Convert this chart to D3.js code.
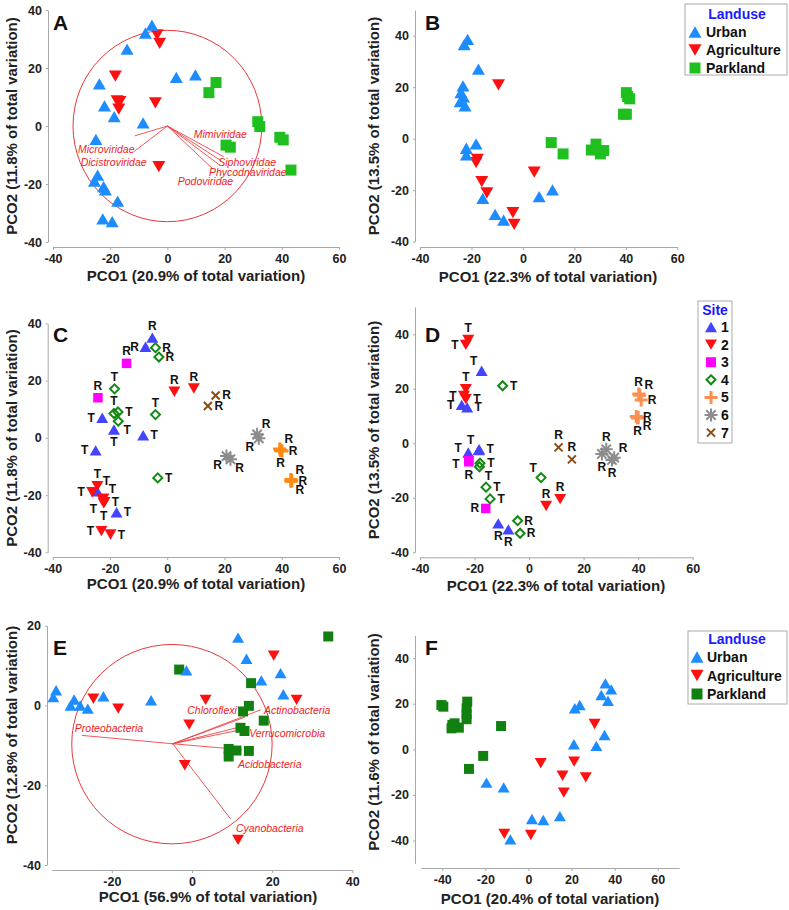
<!DOCTYPE html>
<html>
<head>
<meta charset="utf-8">
<script src="https://cdn.jsdelivr.net/npm/d3@7"></script>
<style>
body { margin: 0; background: #fff; }
svg { font-family: Arial, "Liberation Sans", sans-serif; }
</style>
</head>
<body>
<script>
// ---- panel A : viral PCO with vectors
var aUrban = [[-5.4,34.8],[-7.7,32],[-14.1,26.5],[3.1,16.8],[9.8,17.6],[-23.8,14.5],[-22,6.9],[-18.6,3.2],[-8.5,1.1],[-25,-4.6],[-24.4,-16.9],[-25.5,-19],[-22.3,-20.9],[-21.7,-22],[-17.4,-25.9],[-22.6,-32],[-19.3,-33]];
var aAgri = [[-3.6,31.4],[-2.7,28.5],[-18.2,17.2],[-17.6,8.7],[-16.6,8.4],[-17,5.8],[-4.2,8],[-3,-14]];
var aPark = [[14.5,11.5],[17,15],[31.6,1.5],[32.3,-0.2],[20.5,-6.6],[22,-7.3],[39.3,-3.9],[40.5,-4.8],[43.2,-15.2]];
var aVecNames = ["Microviridae","Dicistroviridae","Mimiviridae","Siphoviridae","Phycodnaviridae","Podoviridae"];
var aVecX = [-11.4,-11.8,19.7,18.8,17.9,16];
var aVecY = [-3.4,-8.9,-10.6,-12,-13.2,-14.9];
var aVecLabX = [-21.4,-18.8,18.5,27.9,28.1,13.3];
var aVecLabY = [-8.0,-12.5,-2.8,-12.5,-15.9,-18.9];
var aCircle = [0, 0, 33];

// ---- panel B
var bUrban = [[-21.5,38.6],[-22.8,36.6],[-17.3,27],[-23.3,20.5],[-24.1,17.9],[-23.1,16.3],[-24.4,14.4],[-22.5,12.8],[-22,-3.7],[-22,-6.3],[-18.2,-2],[-15.6,-23.2],[-10.8,-29.4],[-7.5,-31.6],[6.3,-22.5],[11.5,-19.9]];
var bAgri = [[-9.5,20.9],[-17.7,-8],[-18.2,-9.3],[-16,-16.7],[-14,-21],[-3.9,-28.7],[-3.4,-33.3],[4.4,-13]];
var bPark = [[11,-1.5],[15.6,-5.9],[26.6,-4.4],[28.4,-2.1],[30.1,-5.9],[31.4,-4.6],[40.2,17.9],[40.7,16.4],[41.5,15.5],[39.1,9.5],[40.2,9.5]];

// ---- panel C (sites, R/T labels)
var cSite1 = [[-5.2,35,"R"],[-7.6,31.8,"R"],[-22.7,7,"T"],[-18.6,2.9,"T"],[-8.4,0.9,"T"],[-25,-4.4,"T"],[-24.4,-18.7,"T"],[-17.7,-26,"T"]];
var cSite2 = [[2.5,16.1,"R"],[9.3,17.2,"R"],[-24.4,-16.9,"T"],[-26.2,-19,"T"],[-22.3,-21.3,"T"],[-21.9,-22.5,"T"],[-22.6,-21.6,"T"],[-22.2,-22.9,"T"],[-23,-32.6,"T"],[-19.8,-33.8,"T"]];
var cSite3 = [[-14.2,26,"R"],[-24.2,14,"R"]];
var cSite4 = [[-4.1,31.5,"R"],[-2.9,28.2,"R"],[-18.4,17.1,"T"],[-18.6,8.5,"T"],[-17.2,9,"T"],[-17.1,5.8,"T"],[-4.1,8.1,"T"],[-3.3,-14,"T"]];
var cSite5 = [[39.3,-3.9,"R"],[40.1,-4.6,"R"],[39.6,-4.4,"R"],[43.2,-14.6,"R"],[43.5,-15,"R"],[43.2,-15.2,"R"]];
var cSite6 = [[31.4,1.2,"R"],[32,-0.2,"R"],[20.7,-6.4,"R"],[22.1,-7.5,"R"]];
var cSite7 = [[16.9,14.8,"R"],[14.2,11.1,"R"]];

// ---- panel D
var dSite1 = [[-17.4,26.6,"T"],[-24.7,14.1,"T"],[-22.7,13.2,"T"],[-22.3,-3.4,"T"],[-18.3,-2.2,"T"],[-18.5,-2.5,"T"],[-11.3,-29.4,"R"],[-7.6,-31.6,"R"]];
var dSite2 = [[-22.3,37.9,"T"],[-23.2,36.1,"T"],[-23.2,19.8,"T"],[-23.9,17.4,"T"],[-23.2,16.2,"T"],[6.25,-23,"R"],[11.4,-20.5,"R"]];
var dSite3 = [[-22.1,-6.4,"T"],[-22.1,-6.8,"R"],[-15.9,-23.9,"R"]];
var dSite4 = [[-9.7,21.1,"T"],[-18,-7.3,"T"],[-18.2,-8.6,"T"],[-15.8,-16.1,"T"],[-14.3,-20.4,"T"],[4.4,-12.6,"T"],[-4.2,-28.4,"R"],[-3.3,-33,"R"]];
var dSite5 = [[40.2,18.1,"R"],[40.6,17.6,"R"],[41.1,15.9,"R"],[39.3,9.8,"R"],[39.8,9.3,"R"],[40,9.5,"R"]];
var dSite6 = [[28.3,-2.2,"R"],[26.7,-3.9,"R"],[31.2,-5.3,"R"],[30.4,-6.1,"R"]];
var dSite7 = [[10.8,-1.5,"R"],[15.7,-5.9,"R"]];

// ---- panel E : bacterial PCO with vectors
var eUrban = [[-33.9,3.8],[-34.6,2.1],[-29.4,1.5],[-30.3,0],[-27.9,0],[-26,-0.8],[-22.1,2.3],[-10.2,1.3],[-1.4,8.8],[11.5,17],[13.6,11.7],[22.1,8.1],[17.3,6.3],[22.8,2.8]];
var eAgri = [[-24.6,1.7],[-18.4,-0.8],[3.4,1.4],[-0.7,-4.8],[-1.8,-15],[20.4,12.5],[26.1,1.4],[11.5,-33.7]];
var ePark = [[-3.2,9],[14.75,5.6],[34,17.3],[14.2,-0.1],[12.75,-1.5],[17.9,-3.8],[12.1,-5.6],[13.1,-6.4],[9.15,-10.9],[11.1,-11.3],[9.15,-12.8],[14.2,-11.4]];
var eVecNames = ["Proteobacteria","Chloroflexi","Actinobacteria","Verrucomicrobia","Acidobacteria","Cyanobacteria"];
var eVecX = [-27.5,13.3,17.1,12.75,12.5,9.6];
var eVecY = [-7.5,-2.9,-1.1,-5.2,-11.1,-28.4];
var eVecExtraX = [11.25], eVecExtraY = [-6.3];
var eVecLabX = [-20.7,5,26.25,23.75,19.4,19.4];
var eVecLabY = [-5.7,-1.25,-1.1,-6.8,-14.6,-30.75];
var eCircle = [-5, -9.7, 25];

// ---- panel F
var fUrban = [[35.7,28.9],[38.4,26.3],[33.8,23.8],[36.9,21.3],[21.5,18],[23.8,19.4],[35.3,6.3],[31.5,1.5],[21.1,2.2],[-19.5,-14.6],[-11.5,-16.7],[1.6,-30.6],[6.9,-31],[14.6,-29.3],[-8.4,-39.5]];
var fAgri = [[30.7,11.1],[5.7,-6.1],[21.2,-5.4],[15.8,-11.6],[26.6,-12.3],[16.4,-19],[-11.2,-37.1],[1.1,-37.6]];
var fPark = [[-40.4,19.4],[-39.5,18.7],[-35.3,10.7],[-34.3,11.4],[-32.3,9.5],[-35.7,9.2],[-28.4,20.9],[-28.7,18],[-28.7,15.4],[-28.7,13.2],[-12.7,10.2],[-21,-2.9],[-27.6,-8.6]];

var landuseNames = ["Urban","Agriculture","Parkland"];
var siteNames = ["1","2","3","4","5","6","7"];

// label placement (layout only)
var cDir = [["n","w","w","s","e","w","ne","e"],["n","n","n","w","ne","e","sw","s","w","e"],["n","n"],["e","e","n","n","e","se","n","e"],["ne","e","s","ne","e","se"],["ne","sw","sw","se"],["e","e"]];
var dDir = [["nw","w","e","wnw","e","nw","s","s"],["n","w","n","w","e","n","n"],["wsw","s","w"],["e","e","se","e","e","nw","e","e"],["n","ne","e","e","s","se"],["n","s","ne","s"],["n","n"]];
var off = {n:[0,-12], s:[0,13], e:[11,0], w:[-11,0], ne:[9,-10], nw:[-8,-10], se:[9,9], sw:[-9,9], wnw:[-10,-5], wsw:[-13,3]};

var BLUE = "#1c8cff", RED = "#ff1010", GREEN1 = "#1fbf1f", GREEN2 = "#118011";

var svg = d3.select("body").append("svg").attr("width", 789).attr("height", 910);

// ---------- shapes
function shapePath(type, s) {
    var h = s / 2;
    if (type == "up") { var t = s * 0.866 / 2; return "M0," + (-t) + "L" + h + "," + t + "L" + (-h) + "," + t + "Z"; }
    if (type == "down") { var t2 = s * 0.866 / 2; return "M0," + t2 + "L" + h + "," + (-t2) + "L" + (-h) + "," + (-t2) + "Z"; }
    if (type == "square") return "M" + (-h) + "," + (-h) + "h" + s + "v" + s + "h" + (-s) + "Z";
    if (type == "diamond") return "M0," + (-h) + "L" + h + ",0L0," + h + "L" + (-h) + ",0Z";
    if (type == "plus") return "M0," + (-h) + "V" + h + "M" + (-h) + ",0H" + h;
    if (type == "cross") { var c = h * 0.8; return "M" + (-c) + "," + (-c) + "L" + c + "," + c + "M" + (-c) + "," + c + "L" + c + "," + (-c); }
    if (type == "star") { var d = h * 0.72; return "M0," + (-h) + "V" + h + "M" + (-h) + ",0H" + h + "M" + (-d) + "," + (-d) + "L" + d + "," + d + "M" + (-d) + "," + d + "L" + d + "," + (-d); }
}
function styleShape(sel, type, color) {
    if (type == "diamond") sel.attr("fill", "none").attr("stroke", color).attr("stroke-width", 2);
    else if (type == "plus") sel.attr("fill", "none").attr("stroke", color).attr("stroke-width", 3);
    else if (type == "cross" || type == "star") sel.attr("fill", "none").attr("stroke", color).attr("stroke-width", 2);
    else sel.attr("fill", color).attr("stroke", "none");
}

// ---------- panel frame
function makePanel(p) {
    var x = d3.scaleLinear().domain(p.xd).range(p.xr);
    var y = d3.scaleLinear().domain(p.yd).range(p.yr);
    var g = svg.append("g");

    var xAxis = d3.axisBottom(x).tickValues(p.xt).tickSize(3).tickSizeOuter(0).tickPadding(4);
    var yAxis = d3.axisLeft(y).tickValues(p.yt).tickSize(2).tickSizeOuter(0).tickPadding(4);
    var gx = g.append("g").attr("transform", "translate(0," + p.ay + ")").call(xAxis);
    var gy = g.append("g").attr("transform", "translate(" + p.ax + ",0)").call(yAxis);
    [gx, gy].forEach(function (a) {
        a.select(".domain").attr("stroke", "#a8a8a8");
        a.selectAll(".tick line").attr("stroke", "#a8a8a8");
        a.selectAll("text").attr("font-size", "12.5px").attr("font-weight", "bold").attr("fill", "#222");
    });
    gx.selectAll("text").text(function (d) { return d < 0 ? "-" + (-d) : d; });
    gy.selectAll("text").text(function (d) { return d < 0 ? "-" + (-d) : d; });

    g.append("text").attr("x", p.xlx).attr("y", p.xly).attr("text-anchor", "middle")
        .attr("font-size", "15px").attr("font-weight", "bold").attr("fill", "#222").text(p.xlab);
    g.append("text").attr("transform", "translate(" + p.ylx + "," + p.yly + ") rotate(-90)")
        .attr("text-anchor", "middle").attr("font-size", "15px").attr("font-weight", "bold").attr("fill", "#222").text(p.ylab);
    g.append("text").attr("x", p.lx).attr("y", p.ly).attr("font-size", "21px").attr("font-weight", "bold")
        .attr("fill", "#111").text(p.letter);
    return {x: x, y: y, g: g};
}

function drawPoints(pn, data, type, color, size) {
    pn.g.append("g").selectAll("path").data(data).enter().append("path")
        .attr("transform", function (d) { return "translate(" + pn.x(d[0]) + "," + pn.y(d[1]) + ")"; })
        .attr("d", shapePath(type, size))
        .call(styleShape, type, color);
}

function drawLabels(pn, data, dirs) {
    pn.g.append("g").selectAll("text").data(data).enter().append("text")
        .attr("x", function (d, i) { return pn.x(d[0]) + off[dirs[i]][0]; })
        .attr("y", function (d, i) { return pn.y(d[1]) + off[dirs[i]][1]; })
        .attr("text-anchor", "middle").attr("dominant-baseline", "central")
        .attr("font-size", "12px").attr("font-weight", "bold").attr("fill", "#111")
        .text(function (d) { return d[2]; });
}

function drawVectors(pn, circle, ox, oy, vx, vy, names, lx, ly) {
    var vg = pn.g.append("g");
    vg.append("ellipse").attr("cx", pn.x(circle[0])).attr("cy", pn.y(circle[1]))
        .attr("rx", pn.x(circle[0] + circle[2]) - pn.x(circle[0]))
        .attr("ry", pn.y(circle[1]) - pn.y(circle[1] + circle[2]))
        .attr("fill", "none").attr("stroke", "#e8373a").attr("stroke-width", 1);
    vx.forEach(function (v, i) {
        vg.append("line").attr("x1", pn.x(ox)).attr("y1", pn.y(oy))
            .attr("x2", pn.x(v)).attr("y2", pn.y(vy[i]))
            .attr("stroke", "#ee4444").attr("stroke-width", 0.9);
    });
    names.forEach(function (n, i) {
        vg.append("text").attr("x", pn.x(lx[i])).attr("y", pn.y(ly[i]))
            .attr("text-anchor", "middle").attr("dominant-baseline", "central")
            .attr("font-size", "10.5px").attr("font-style", "italic").attr("fill", "#ee1c1c").text(n);
    });
}

function legend(box, title, names, types, colors, sizes, gap) {
    var lg = svg.append("g");
    lg.append("rect").attr("x", box[0]).attr("y", box[1]).attr("width", box[2]).attr("height", box[3])
        .attr("fill", "#fff").attr("stroke", "#aaa").attr("stroke-width", 1);
    lg.append("text").attr("x", box[4]).attr("y", box[5]).attr("text-anchor", "middle")
        .attr("dominant-baseline", "central").attr("font-size", "14px").attr("font-weight", "bold")
        .attr("fill", "#1a1aff").text(title);
    names.forEach(function (n, i) {
        var yy = box[6] + i * gap;
        var s = lg.append("path").attr("transform", "translate(" + box[7] + "," + yy + ")")
            .attr("d", shapePath(types[i], sizes[i]));
        styleShape(s, types[i], colors[i]);
        lg.append("text").attr("x", box[8]).attr("y", yy).attr("dominant-baseline", "central")
            .attr("font-size", "14px").attr("font-weight", "bold").attr("fill", "#111").text(n);
    });
}

var ticks6 = [-40, -20, 0, 20, 40, 60], ticksY = [-40, -20, 0, 20, 40];

// ---------- A
var pA = makePanel({xd: [-40, 60], xr: [53, 339], yd: [-40, 40], yr: [242, 10], ax: 48, ay: 247,
    xt: ticks6, yt: ticksY, xlab: "PCO1 (20.9% of total variation)", xlx: 196, xly: 281,
    ylab: "PCO2 (11.8% of total variation)", ylx: 17, yly: 126, letter: "A", lx: 53, ly: 30});
drawVectors(pA, aCircle, 0, 0, aVecX, aVecY, aVecNames, aVecLabX, aVecLabY);
drawPoints(pA, aPark, "square", GREEN1, 11);
drawPoints(pA, aAgri, "down", RED, 13);
drawPoints(pA, aUrban, "up", BLUE, 13);

// ---------- B
var pB = makePanel({xd: [-40, 60], xr: [420, 677.3], yd: [-40, 50], yr: [241.7, 10], ax: 415, ay: 247,
    xt: ticks6, yt: ticksY, xlab: "PCO1 (22.3% of total variation)", xlx: 548, xly: 282,
    ylab: "PCO2 (13.5% of total variation)", ylx: 379, yly: 126, letter: "B", lx: 425, ly: 30});
drawPoints(pB, bPark, "square", GREEN1, 11);
drawPoints(pB, bAgri, "down", RED, 13);
drawPoints(pB, bUrban, "up", BLUE, 13);
legend([685, 4, 102, 71, 737, 14, 32, 695, 706], "Landuse", landuseNames,
    ["up", "down", "square"], [BLUE, RED, GREEN1], [13, 13, 11], 18);

// ---------- C
var siteTypes = ["up", "down", "square", "diamond", "plus", "star", "cross"];
var siteSizes = [12, 12, 9.5, 9, 13, 13, 10];
var cColors = ["#4444ff", RED, "#ff00ff", "#128a12", "#ff8a10", "#8c8c8c", "#8b4a14"];
var dColors = ["#4444ff", RED, "#ff00ff", "#128a12", "#ff8f50", "#8c8c8c", "#8b4a14"];
var pC = makePanel({xd: [-40, 60], xr: [52.7, 339], yd: [-40, 40], yr: [552.3, 323.3], ax: 47.7, ay: 557,
    xt: ticks6, yt: ticksY, xlab: "PCO1 (20.9% of total variation)", xlx: 196, xly: 589,
    ylab: "PCO2 (11.8% of total variation)", ylx: 17, yly: 438, letter: "C", lx: 53, ly: 342});
[cSite1, cSite2, cSite3, cSite4, cSite5, cSite6, cSite7].forEach(function (s, i) {
    drawPoints(pC, s, siteTypes[i], cColors[i], siteSizes[i]);
});
[cSite1, cSite2, cSite3, cSite4, cSite5, cSite6, cSite7].forEach(function (s, i) {
    drawLabels(pC, s, cDir[i]);
});

// ---------- D
var pD = makePanel({xd: [-40, 60], xr: [420, 692.7], yd: [-40, 50], yr: [552.3, 307], ax: 415, ay: 557.3,
    xt: ticks6, yt: ticksY, xlab: "PCO1 (22.3% of total variation)", xlx: 556, xly: 591,
    ylab: "PCO2 (13.5% of total variation)", ylx: 379, yly: 430, letter: "D", lx: 425, ly: 342});
[dSite1, dSite2, dSite3, dSite4, dSite5, dSite6, dSite7].forEach(function (s, i) {
    drawPoints(pD, s, siteTypes[i], dColors[i], siteSizes[i]);
});
[dSite1, dSite2, dSite3, dSite4, dSite5, dSite6, dSite7].forEach(function (s, i) {
    drawLabels(pD, s, dDir[i]);
});
legend([698, 301, 34, 142, 715, 310, 327, 711, 721], "Site", siteNames,
    siteTypes, dColors, [12, 12, 10, 9, 13, 13, 10], 17.6);

// ---------- E
var pE = makePanel({xd: [-35, 40], xr: [51.7, 352.3], yd: [-40, 20], yr: [865, 625.7], ax: 47, ay: 870,
    xt: [-20, 0, 20, 40], yt: [-40, -20, 0, 20], xlab: "PCO1 (56.9% of total variation)", xlx: 208, xly: 902,
    ylab: "PCO2 (12.8% of total variation)", ylx: 17, yly: 735, letter: "E", lx: 53, ly: 655});
drawVectors(pE, eCircle, eCircle[0] + 0.2, eCircle[1] + 0.1, eVecX.concat(eVecExtraX), eVecY.concat(eVecExtraY),
    eVecNames, eVecLabX, eVecLabY);
drawPoints(pE, ePark, "square", GREEN2, 10);
drawPoints(pE, eAgri, "down", RED, 12);
drawPoints(pE, eUrban, "up", BLUE, 12);

// ---------- F
var pF = makePanel({xd: [-50, 70], xr: [420.7, 679.3], yd: [-50, 50], yr: [863.3, 635.3], ax: 415, ay: 868,
    xt: ticks6, yt: ticksY, xlab: "PCO1 (20.4% of total variation)", xlx: 550, xly: 904,
    ylab: "PCO2 (11.6% of total variation)", ylx: 379, yly: 742, letter: "F", lx: 425, ly: 655});
drawPoints(pF, fPark, "square", GREEN2, 10);
drawPoints(pF, fAgri, "down", RED, 12);
drawPoints(pF, fUrban, "up", BLUE, 12);
legend([688, 631, 99, 73, 737, 639, 657, 697, 707], "Landuse", landuseNames,
    ["up", "down", "square"], [BLUE, RED, GREEN2], [13, 13, 11], 18.5);
</script>
</body>
</html>
